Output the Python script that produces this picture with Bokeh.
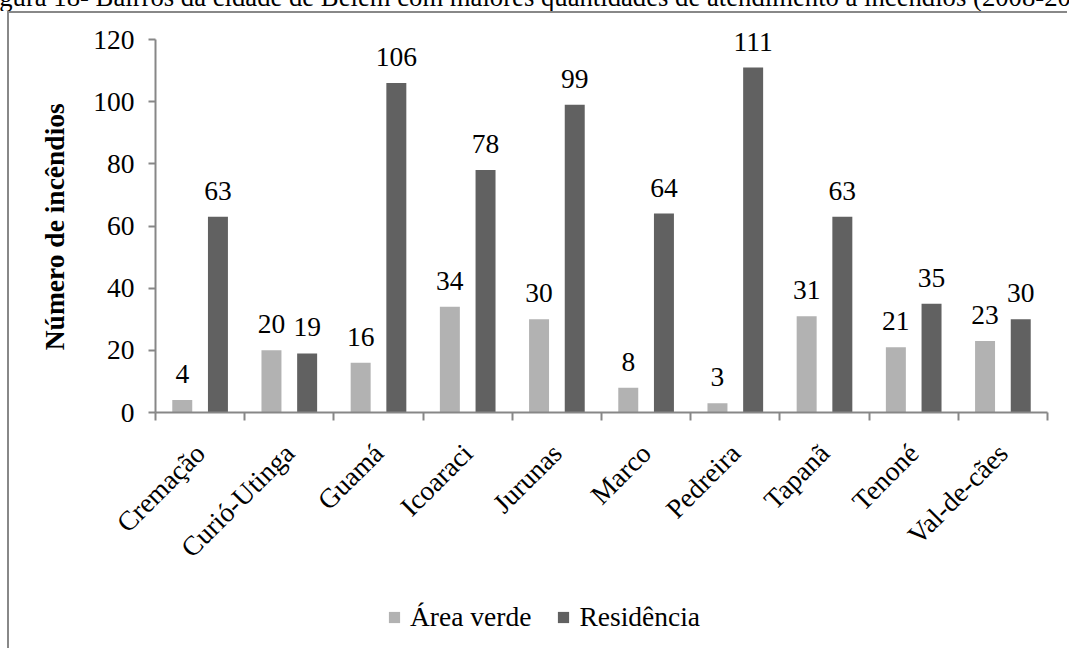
import math
from bokeh.plotting import figure
from bokeh.layouts import column
from bokeh.models import (ColumnDataSource, Range1d, FixedTicker, Legend, LegendItem,
                          LabelSet, Div)
from bokeh.embed import file_html
from bokeh.resources import INLINE
from bokeh.core.properties import value

# ---- data ----
caption = ("Figura 18- Bairros da cidade de Belém com maiores quantidades de "
           "atendimento a incêndios (2008-2012)")
bairros = ["Cremação", "Curió-Utinga", "Guamá", "Icoaraci", "Jurunas",
           "Marco", "Pedreira", "Tapanã", "Tenoné", "Val-de-cães"]
area_verde = [4, 20, 16, 34, 30, 8, 3, 31, 21, 23]
residencia = [63, 19, 106, 78, 99, 64, 111, 63, 35, 30]
series_names = ["Área verde", "Residência"]
y_ticks = [0, 20, 40, 60, 80, 100, 120]
y_title = "Número de incêndios"

# ---- style ----
FONT = "Liberation Serif"
FS = "27.5px"
LIGHT = "#b2b2b2"
DARK = "#616161"
AXIS = "#878787"
BORDER = {"border-left": "2px solid #888888", "margin-left": "7px"}
W = 1060
H1 = 572                      # main chart
H2 = 65                       # legend strip
BL, BR, BT, BB = 146, 22, 0, 173
YMAX_AXIS = 120
PX_PER_UNIT = 3.108
y_top = (H1 - BB - BT) / PX_PER_UNIT
TITLE_PAD = "\u00a0" * 4      # centres the axis title on the 0-120 span

n = len(bairros)
centers = [i + 0.5 for i in range(n)]
off, bw = 0.2, 0.224

src_a = ColumnDataSource(dict(x=[c - off for c in centers], top=area_verde,
                              lab=[str(v) for v in area_verde]))
src_r = ColumnDataSource(dict(x=[c + off for c in centers], top=residencia,
                              lab=[str(v) for v in residencia]))

p = figure(width=W, height=H1, output_backend="svg", toolbar_location=None,
           x_range=Range1d(0, n), y_range=Range1d(0, y_top),
           min_border_left=BL, min_border_right=BR, min_border_top=BT,
           min_border_bottom=BB)
p.outline_line_color = None
p.xgrid.visible = False
p.ygrid.visible = False
p.background_fill_color = "white"
p.border_fill_color = "white"
p.styles = dict(BORDER, **{"border-top": "2px solid #888888"})

p.vbar(x="x", top="top", width=bw, source=src_a, fill_color=LIGHT, line_color=None)
p.vbar(x="x", top="top", width=bw, source=src_r, fill_color=DARK, line_color=None)

for s in (src_a, src_r):
    p.add_layout(LabelSet(x="x", y="top", text="lab", source=s,
                          text_font=value(FONT), text_font_size=value(FS),
                          text_align=value("center"), text_baseline=value("alphabetic"),
                          y_offset=value(17), text_color=value("black")))

# x axis
xa = p.xaxis[0]
xa.ticker = FixedTicker(ticks=centers, minor_ticks=list(range(n + 1)))
xa.major_label_overrides = {c: name for c, name in zip(centers, bairros)}
xa.major_label_orientation = math.pi / 4
xa.major_tick_out = 0
xa.major_tick_in = 0
xa.minor_tick_out = 8
xa.minor_tick_in = 0
xa.minor_tick_line_color = AXIS
xa.minor_tick_line_width = 2
xa.axis_line_color = AXIS
xa.axis_line_width = 2
xa.major_label_text_font = FONT
xa.major_label_text_font_size = FS
xa.major_label_text_color = "black"
xa.major_label_standoff = 28

# y axis
ya = p.yaxis[0]
ya.bounds = (0, YMAX_AXIS)
ya.ticker = FixedTicker(ticks=y_ticks)
ya.major_tick_out = 7
ya.major_tick_in = 0
ya.minor_tick_out = 0
ya.minor_tick_in = 0
ya.major_tick_line_color = AXIS
ya.major_tick_line_width = 2
ya.axis_line_color = AXIS
ya.axis_line_width = 2
ya.major_label_text_font = FONT
ya.major_label_text_font_size = FS
ya.major_label_text_color = "black"
ya.major_label_standoff = 14
ya.axis_label = y_title + TITLE_PAD
ya.axis_label_text_font = FONT
ya.axis_label_text_font_size = FS
ya.axis_label_text_font_style = "bold"
ya.axis_label_text_color = "black"
ya.axis_label_standoff = 20

# legend strip (separate small figure, same left border; its frame aligns with p's)
lf = figure(width=W, height=H2, output_backend="svg", toolbar_location=None,
            x_range=Range1d(0, 1), y_range=Range1d(0, 1),
            x_axis_location=None, y_axis_location=None,
            min_border=0, min_border_left=0, min_border_right=0,
            min_border_top=0, min_border_bottom=0)
lf.outline_line_color = None
lf.xgrid.visible = False
lf.ygrid.visible = False
lf.styles = dict(BORDER)
# legend-key glyphs only (placed outside the visible range)
lr1 = lf.vbar(x=[-5], top=[0], width=0.1, fill_color=LIGHT, line_color=None)
lr2 = lf.vbar(x=[-5], top=[0], width=0.1, fill_color=DARK, line_color=None)
legend = Legend(items=[LegendItem(label=series_names[0], renderers=[lr1]),
                       LegendItem(label=series_names[1], renderers=[lr2])],
                orientation="horizontal", location=(232, 15),
                label_text_font=FONT, label_text_font_size=FS,
                label_text_color="black",
                glyph_width=14, glyph_height=14, label_standoff=9, spacing=25,
                padding=0, margin=0, border_line_color=None,
                background_fill_alpha=0)
lf.add_layout(legend, "center")

cap = Div(text=('<div style="position:relative;top:-16px;left:-23px;white-space:nowrap;'
                "font-family:'Liberation Serif';font-size:26.7px;line-height:26px;"
                'color:black">' + caption + '</div>'),
          width=1069, height=11, margin=0,
          styles={"overflow": "hidden"})

layout = column(cap, p, lf, spacing=0, margin=0)
open("out.html", "w").write(file_html(layout, INLINE))
